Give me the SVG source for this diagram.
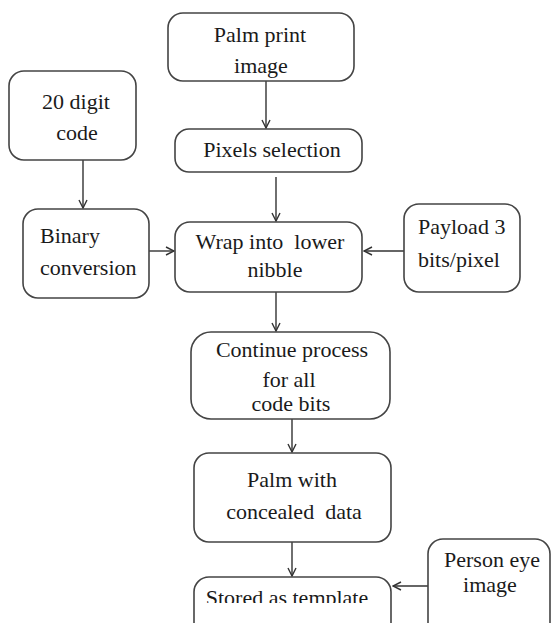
<svg xmlns="http://www.w3.org/2000/svg" width="551" height="623" viewBox="0 0 551 623">
<style>
.box{fill:#fff;stroke:#444;stroke-width:1.6}
.e{fill:none;stroke:#333;stroke-width:1.4}
text{font-family:serif;font-size:22px;fill:#1a1a1a}
</style>
<defs>
<marker id="ah" viewBox="0 0 10 10" refX="9" refY="5" markerWidth="10" markerHeight="10" markerUnits="userSpaceOnUse" orient="auto">
<path d="M1,1 L9,5 L1,9" fill="none" stroke="#333" stroke-width="1.4"/>
</marker>
<clipPath id="clipStored"><rect x="190" y="570" width="210" height="33"/></clipPath>
</defs>
<rect width="551" height="623" fill="#fff"/>
<g id="connectors">
<line class="e" x1="266" y1="81" x2="266" y2="128" marker-end="url(#ah)"/>
<line class="e" x1="276" y1="177" x2="276" y2="221" marker-end="url(#ah)"/>
<line class="e" x1="83" y1="160" x2="83" y2="208" marker-end="url(#ah)"/>
<line class="e" x1="149" y1="251" x2="174" y2="251" marker-end="url(#ah)"/>
<line class="e" x1="404" y1="251" x2="364" y2="251" marker-end="url(#ah)"/>
<line class="e" x1="276" y1="292" x2="276" y2="331" marker-end="url(#ah)"/>
<line class="e" x1="292" y1="419" x2="292" y2="452" marker-end="url(#ah)"/>
<line class="e" x1="292" y1="542" x2="292" y2="576" marker-end="url(#ah)"/>
<line class="e" x1="428" y1="586" x2="393" y2="586" marker-end="url(#ah)"/>
</g>
<g id="palm-print-image">
<rect class="box" x="168" y="13" width="186" height="68" rx="15"/>
<text x="260" y="42" text-anchor="middle" font-family="serif">Palm print</text>
<text x="261" y="73" text-anchor="middle" font-family="serif">image</text>
</g>
<g id="digit-code">
<rect class="box" x="9" y="71" width="127" height="89" rx="15"/>
<text x="76" y="109" text-anchor="middle" font-family="serif">20 digit</text>
<text x="77" y="140" text-anchor="middle" font-family="serif">code</text>
</g>
<g id="pixels-selection">
<rect class="box" x="175" y="129" width="187" height="43" rx="14"/>
<text x="272" y="157" text-anchor="middle" font-family="serif">Pixels selection</text>
</g>
<g id="binary-conversion">
<rect class="box" x="23" y="209" width="126" height="89" rx="15"/>
<text x="40" y="243" font-family="serif">Binary</text>
<text x="40" y="275" font-family="serif">conversion</text>
</g>
<g id="wrap-nibble">
<rect class="box" x="175" y="222" width="187" height="70" rx="15"/>
<text x="270" y="249" text-anchor="middle" font-family="serif">Wrap into&#160; lower</text>
<text x="275" y="277" text-anchor="middle" font-family="serif">nibble</text>
</g>
<g id="payload">
<rect class="box" x="404" y="204" width="116" height="88" rx="15"/>
<text x="418" y="234" font-family="serif">Payload 3</text>
<text x="418" y="267" font-family="serif">bits/pixel</text>
</g>
<g id="continue-process">
<rect class="box" x="191" y="332" width="199" height="87" rx="20"/>
<text x="292" y="357" text-anchor="middle" font-family="serif">Continue process</text>
<text x="289" y="387" text-anchor="middle" font-family="serif">for all</text>
<text x="291" y="411" text-anchor="middle" font-family="serif">code bits</text>
</g>
<g id="palm-concealed">
<rect class="box" x="194" y="453" width="197" height="89" rx="15"/>
<text x="292" y="487" text-anchor="middle" font-family="serif">Palm with</text>
<text x="294" y="519" text-anchor="middle" font-family="serif">concealed&#160; data</text>
</g>
<g id="stored-template">
<rect class="box" x="194" y="577" width="197" height="70" rx="15"/>
<text x="287" y="605" text-anchor="middle" font-family="serif" clip-path="url(#clipStored)">Stored as template</text>
</g>
<g id="person-eye">
<rect class="box" x="428" y="539" width="122" height="100" rx="15"/>
<text x="492" y="567" text-anchor="middle" font-family="serif">Person eye</text>
<text x="490" y="592" text-anchor="middle" font-family="serif">image</text>
</g>
</svg>
